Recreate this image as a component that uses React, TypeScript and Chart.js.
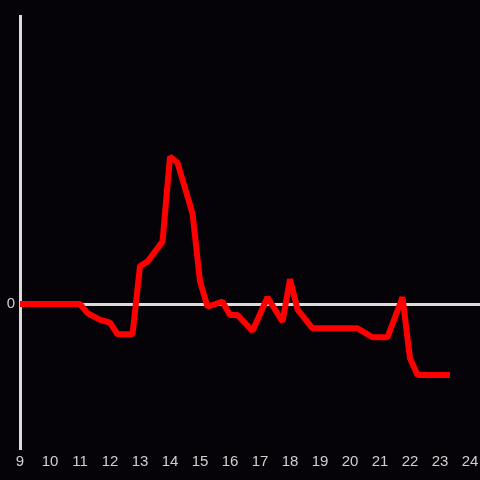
import React, { useEffect, useRef } from "react";
import { Chart, registerables } from "chart.js";

Chart.register(...registerables);

// time of day (hours) and value
const hours = [9.0, 11.0, 11.25, 11.67, 12.0, 12.25, 12.75, 13.0, 13.25, 13.75, 14.0, 14.25, 14.75, 15.0, 15.25, 15.75, 16.0, 16.25, 16.75, 17.25, 17.75, 18.0, 18.25, 18.75, 20.25, 20.75, 21.25, 21.75, 22.0, 22.25, 23.33];
const values = [0, 0, -6.3, -11, -13, -21, -21, 26.4, 29.4, 43.3, 102.3, 98.1, 63, 15.8, -1.9, 1.6, -7.6, -7.6, -18.75, 4.7, -12.3, 17.2, -3.7, -16.9, -16.9, -23.1, -23.1, 4.7, -37.7, -49.3, -49.3];
const xTicks = [9, 10, 11, 12, 13, 14, 15, 16, 17, 18, 19, 20, 21, 22, 23, 24];

const BG = "#050307";
const AXIS = "#dcdcdc";
const LABEL = "#d0d0d0";

export default function App() {
  const ref = useRef<HTMLCanvasElement | null>(null);
  useEffect(() => {
    if (!ref.current) return;
    const chart = new Chart(ref.current, {
      type: "line",
      data: {
        datasets: [
          {
            data: hours.map((h, i) => ({ x: h, y: values[i] })),
            borderColor: "#ff0000",
            borderWidth: 6,
            pointRadius: 0,
            tension: 0,
            fill: false,
            borderJoinStyle: "bevel",
            borderCapStyle: "butt",
          },
        ],
      },
      options: {
        animation: false,
        responsive: false,
        maintainAspectRatio: false,
        layout: { padding: { top: 16, left: 0, right: 0, bottom: 0 } },
        plugins: { legend: { display: false }, tooltip: { enabled: false } },
        scales: {
          x: {
            type: "linear",
            min: 9,
            max: 24 + 1 / 3,
            afterBuildTicks: (scale: any) => {
              scale.ticks = xTicks.map((v) => ({ value: v }));
            },
            afterFit: (scale: any) => {
              scale.height = 32;
              scale.paddingRight = 0;
              scale.paddingLeft = 0;
            },
            grid: { display: false, drawTicks: false },
            border: { display: false },
            ticks: {
              color: LABEL,
              font: { family: "Liberation Sans, Arial, sans-serif", size: 15 },
              padding: 5,
              maxRotation: 0,
              autoSkip: false,
              callback: (v: any) => String(v),
            },
          },
          y: {
            type: "linear",
            min: -100,
            max: 200,
            afterFit: (scale: any) => {
              scale.width = 20;
              scale.paddingTop = 0;
              scale.paddingBottom = 0;
            },
            ticks: {
              stepSize: 100,
              color: LABEL,
              font: { family: "Liberation Sans, Arial, sans-serif", size: 15 },
              padding: 5,
              callback: (v: any) => (v === 0 ? "0" : ""),
            },
            grid: {
              drawTicks: false,
              lineWidth: 3,
              color: (ctx: any) => (ctx.tick && ctx.tick.value === 0 ? AXIS : "rgba(0,0,0,0)"),
            },
            border: { display: true, color: AXIS, width: 3 },
          },
        },
      },
    });
    return () => chart.destroy();
  }, []);
  return (
    <div style={{ position: "fixed", left: 0, top: 0, width: 480, height: 480, background: BG }}>
      <canvas ref={ref} width={480} height={480} style={{ width: 480, height: 480, display: "block" }} />
    </div>
  );
}
